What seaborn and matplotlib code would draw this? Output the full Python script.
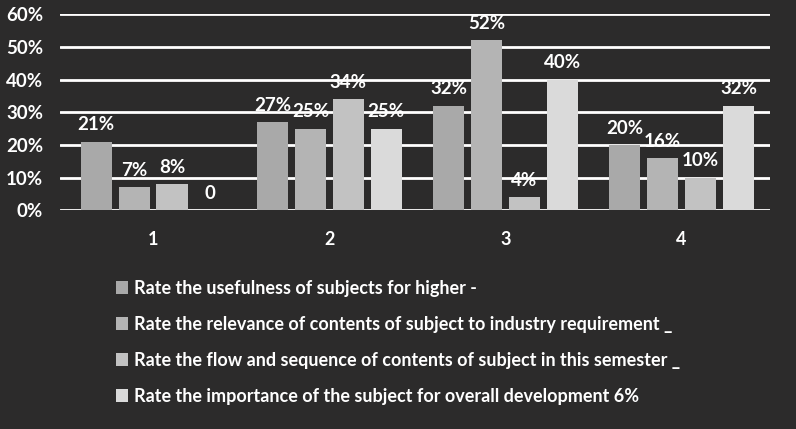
import matplotlib
matplotlib.use('Agg')
import pandas as pd
import matplotlib.pyplot as plt
import seaborn as sns

# data (values in %)
groups = ['1', '2', '3', '4']
series_names = [
    'Rate the usefulness of subjects for higher -',
    'Rate the relevance of contents of subject to industry requirement _',
    'Rate the flow and sequence of contents of subject in this semester _',
    'Rate the importance of the subject for overall development 6%',
]
usefulness = [21, 27, 32, 20]
relevance = [7, 25, 52, 16]
flow = [8, 34, 4, 10]
importance = [0, 25, 40, 32]
y_ticks = [0, 10, 20, 30, 40, 50, 60]

bg = '#2c2b2b'
bar_colors = ['#a9a9a9', '#b4b4b4', '#c2c2c2', '#dadada']

sns.set_theme(style='dark')
plt.rcParams['font.family'] = ['Lato', 'DejaVu Sans']

rows = []
for name, vals in zip(series_names, [usefulness, relevance, flow, importance]):
    for g, v in zip(groups, vals):
        rows.append({'group': g, 'series': name, 'value': v})
df = pd.DataFrame(rows)

fig = plt.figure(figsize=(7.96, 4.29), dpi=100, facecolor=bg)
ax = fig.add_axes([0.075, 0.51, 0.892, 0.457])
ax.set_facecolor(bg)

sns.barplot(data=df, x='group', y='value', hue='series', palette=bar_colors,
            width=0.86, gap=0.18, ax=ax, legend=True, zorder=3,
            edgecolor='none')

# white gridlines
for t in y_ticks:
    ax.axhline(t, color='white', lw=2, zorder=1)

ax.set_ylim(0, 60)
ax.set_xlim(-0.53, 3.5)
ax.set_yticks(y_ticks)
ax.set_yticklabels([f'{t}%' for t in y_ticks], color='white', fontsize=13.5,
                   fontweight='bold')
ax.set_xticks(range(len(groups)))
ax.set_xticklabels(groups, color='white', fontsize=13, fontweight='bold')
ax.tick_params(axis='x', pad=15, length=0)
ax.tick_params(axis='y', pad=12, length=0)
ax.set_xlabel('')
ax.set_ylabel('')
for s in ax.spines.values():
    s.set_visible(False)

# data labels
for cont in ax.containers:
    labels = [f'{v:.0f}%' if v > 0 else '0' for v in cont.datavalues]
    ax.bar_label(cont, labels=labels, padding=6, color='white', fontsize=13.5,
                 fontweight='bold')

handles, labels = ax.get_legend_handles_labels()
ax.get_legend().remove()
leg = fig.legend(handles, labels, loc='upper left', bbox_to_anchor=(0.125, 0.386),
                 frameon=False, prop={'size': 13, 'weight': 'bold'},
                 handlelength=0.7, handleheight=0.7,
                 handletextpad=0.3, labelspacing=1.05)
for t in leg.get_texts():
    t.set_color('white')

plt.savefig('out.png', dpi=100, facecolor=bg)
